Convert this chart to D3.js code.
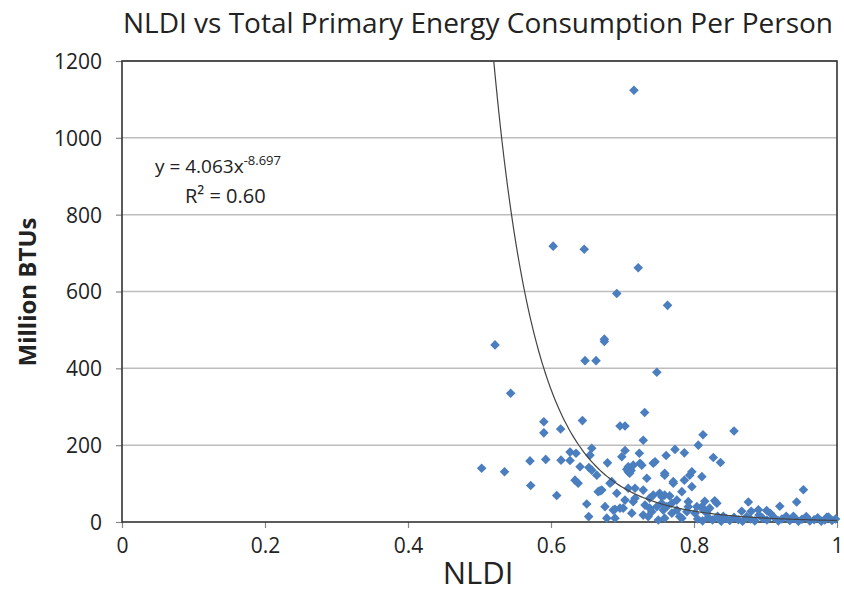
<!DOCTYPE html>
<html>
<head>
<meta charset="utf-8">
<script src="https://cdn.jsdelivr.net/npm/d3@7"></script>
<style>
  body { margin: 0; background: #fff; }
  svg { display: block; }
  text { font-family: "Open Sans", sans-serif; fill: #222; }
</style>
</head>
<body>
<svg id="chart" width="844" height="592"></svg>
<script>
// NLDI index per country
var nldi = [
  0.716, 0.603, 0.6465, 0.722, 0.692, 0.763, 0.6746, 0.6746, 0.5217, 0.6476,
  0.663, 0.748, 0.5436, 0.731, 0.6965, 0.7035, 0.590, 0.590, 0.6135, 0.644,
  0.729, 0.806, 0.8126, 0.856, 0.7035, 0.699, 0.7235, 0.7734, 0.7865, 0.761,
  0.679, 0.7245, 0.7455, 0.706, 0.712, 0.708, 0.664, 0.759, 0.797, 0.734,
  0.685, 0.771, 0.7865, 0.797, 0.671, 0.708, 0.729, 0.692, 0.752, 0.759,
  0.766, 0.783, 0.7175, 0.738, 0.6755, 0.6965, 0.7315, 0.7548, 0.762, 0.776,
  0.792, 0.713, 0.741, 0.769, 0.8014, 0.678, 0.736, 0.750, 0.783,
  0.503, 0.535, 0.5706, 0.5926, 0.614, 0.6266, 0.6266, 0.635, 0.657, 0.6545,
  0.6406, 0.653, 0.657, 0.5716, 0.6336, 0.638, 0.608, 0.650, 0.6527, 0.666,
  0.6895, 0.6825, 0.6685,
  0.708, 0.715, 0.727, 0.743, 0.710, 0.759, 0.794, 0.7175, 0.771, 0.743,
  0.755, 0.7035, 0.715, 0.769, 0.792, 0.687, 0.701, 0.738, 0.748, 0.757,
  0.776, 0.790, 0.729, 0.6895, 0.759, 0.780, 0.804,
  0.827, 0.837, 0.811, 0.953, 0.9436, 0.876, 0.920, 0.829, 0.815, 0.832,
  0.8667, 0.880, 0.890, 0.9016, 0.818, 0.811, 0.813, 0.822, 0.841, 0.939, 0.9855,
  0.805, 0.812, 0.820, 0.826, 0.833, 0.838, 0.845, 0.850, 0.856, 0.862,
  0.868, 0.874, 0.879, 0.885, 0.891, 0.896, 0.902, 0.907, 0.912, 0.918,
  0.923, 0.929, 0.934, 0.940, 0.946, 0.951, 0.957, 0.962, 0.968, 0.973,
  0.978, 0.983, 0.988, 0.993, 0.998
];
// total primary energy consumption per person, million BTUs
var btu = [
  1124, 718, 710, 662, 595, 564, 476, 470, 461, 420,
  420, 390, 335, 285, 250, 250, 261, 232, 242, 264,
  213, 200, 227, 237, 186, 170, 179, 189, 180, 173,
  154, 153, 157, 137, 134, 131, 122, 127, 131, 114,
  105, 105, 109, 92, 83, 88, 83, 75, 75, 70,
  68, 79, 62, 62, 40, 36, 44, 49, 40, 57,
  40, 23, 27, 23, 23, 10, 14, 5, 10,
  140, 131, 159, 163, 161, 182, 160, 179, 192, 174,
  144, 142, 135, 95, 109, 101, 69, 47, 14, 79,
  33, 101, 81,
  144, 148, 148, 153, 127, 122, 122, 88, 101, 70,
  66, 57, 53, 49, 53, 31, 36, 36, 40, 31,
  31, 27, 18, 10, 10, 14, 40,
  168, 155, 118, 84, 52, 52, 41, 55, 54, 49,
  28, 28, 32, 30, 23, 40, 32, 36, 15, 15, 12,
  8, 3, 12, 5, 15, 2, 9, 4, 12, 6,
  2, 14, 8, 3, 18, 10, 5, 22, 12, 3,
  8, 15, 4, 10, 2, 7, 14, 3, 6, 11,
  2, 5, 13, 4, 8
];

var xTicks = [0, 0.2, 0.4, 0.6, 0.8, 1];
var yTicks = [0, 200, 400, 600, 800, 1000, 1200];

// power trendline y = a * x^b
var fitA = 4.063, fitB = -8.697, fitR2 = "0.60";

var margin = {top: 61, right: 7, bottom: 70, left: 122};
var width = 844 - margin.left - margin.right,
    height = 592 - margin.top - margin.bottom;

var svg = d3.select("#chart");
svg.append("rect").attr("width", 844).attr("height", 592).attr("fill", "#fff");

var g = svg.append("g")
    .attr("transform", "translate(" + margin.left + "," + margin.top + ")");

var x = d3.scaleLinear().domain([0, 1]).range([0, width]);
var y = d3.scaleLinear().domain([0, 1200]).range([height, 0]);

// horizontal gridlines
g.append("g")
    .selectAll("line")
    .data(yTicks.slice(1))
  .enter().append("line")
    .attr("x1", 0).attr("x2", width)
    .attr("y1", function(d) { return y(d); })
    .attr("y2", function(d) { return y(d); })
    .attr("stroke", "#bdbdbd")
    .attr("stroke-width", 1.5);

var xAxis = d3.axisBottom(x).tickValues(xTicks).tickSize(6).tickPadding(10)
    .tickFormat(function(d) { return d; });
var yAxis = d3.axisLeft(y).tickValues(yTicks).tickSize(6).tickPadding(14)
    .tickFormat(d3.format("d"));

var gx = g.append("g")
    .attr("transform", "translate(0," + height + ")")
    .call(xAxis);
var gy = g.append("g").call(yAxis);

[gx, gy].forEach(function(ax) {
  ax.select(".domain").remove();
  ax.selectAll(".tick line").attr("stroke", "#888").attr("stroke-width", 1.2);
  ax.selectAll(".tick text")
      .style("font-family", "'Open Sans', sans-serif")
      .style("font-size", "21px")
      .attr("fill", "#333");
});
gy.selectAll(".tick text").attr("dy", "0.35em");

// plot frame
g.append("rect")
    .attr("width", width).attr("height", height)
    .attr("fill", "none")
    .attr("stroke", "#333")
    .attr("stroke-width", 1.6);

// trendline, clipped to the plot area
g.append("clipPath").attr("id", "plotClip")
  .append("rect").attr("width", width).attr("height", height);

var xStart = Math.pow(1200 / fitA, 1 / fitB);
var curve = d3.range(0, 201).map(function(i) {
  var xv = xStart + (1 - xStart) * i / 200;
  return [xv, fitA * Math.pow(xv, fitB)];
});
var fitLine = d3.line()
    .x(function(d) { return x(d[0]); })
    .y(function(d) { return y(d[1]); });

// diamond markers
var diamond = d3.symbol().type(d3.symbolSquare).size(46);
g.append("g")
    .selectAll("path")
    .data(d3.range(nldi.length))
  .enter().append("path")
    .attr("d", diamond)
    .attr("transform", function(i) {
      return "translate(" + x(nldi[i]) + "," + y(btu[i]) + ") rotate(45)";
    })
    .attr("fill", "#4a7ebf");

g.append("path")
    .datum(curve)
    .attr("clip-path", "url(#plotClip)")
    .attr("d", fitLine)
    .attr("fill", "none")
    .attr("stroke", "#444")
    .attr("stroke-width", 1.2);

// equation label
var eq = g.append("text")
    .attr("x", 33).attr("y", 112)
    .style("font-size", "19px")
    .attr("fill", "#333");
eq.append("tspan").text("y = " + fitA + "x");
eq.append("tspan").attr("dy", -8).style("font-size", "13px").text(fitB);
g.append("text")
    .attr("x", 63).attr("y", 142)
    .style("font-size", "20px")
    .attr("fill", "#333")
    .text("R\u00b2 = " + fitR2);

// titles
svg.append("text")
    .attr("x", 478).attr("y", 33)
    .attr("text-anchor", "middle")
    .style("font-size", "28px")
    .attr("fill", "#222")
    .text("NLDI vs Total Primary Energy Consumption Per Person");

svg.append("text")
    .attr("x", 478).attr("y", 584)
    .attr("text-anchor", "middle")
    .style("font-size", "31px")
    .attr("fill", "#222")
    .text("NLDI");

svg.append("text")
    .attr("transform", "translate(36,292) rotate(-90)")
    .attr("text-anchor", "middle")
    .style("font-size", "24px")
    .style("font-weight", "bold")
    .attr("fill", "#222")
    .text("Million BTUs");
</script>
</body>
</html>
